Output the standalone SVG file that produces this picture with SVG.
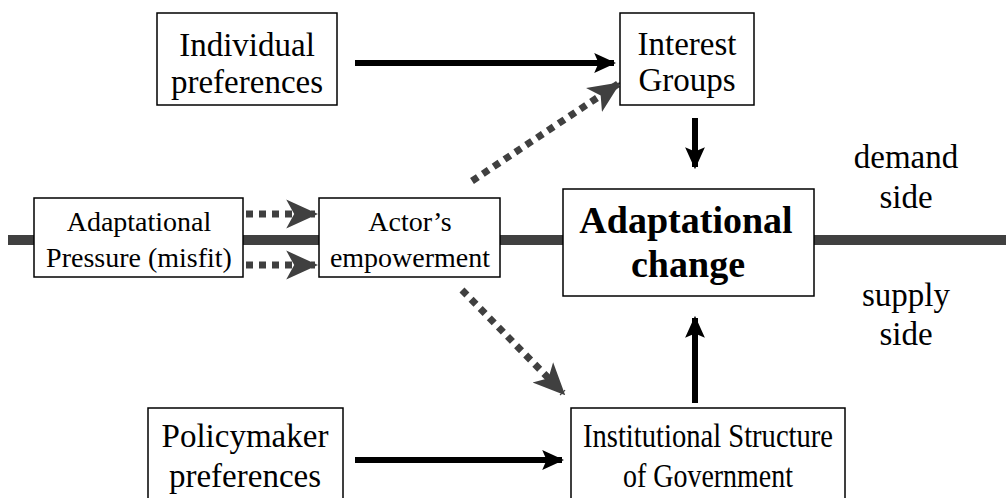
<svg xmlns="http://www.w3.org/2000/svg" width="1006" height="498" viewBox="0 0 1006 498">
<style>
.box{fill:#fff;stroke:#000;stroke-width:1.5}
.t{font-family:"Liberation Serif","Times New Roman",serif;font-size:33px;fill:#000;text-anchor:middle}
.s{font-size:28px}
.b{font-size:38px;font-weight:bold}
.solid{stroke:#000;stroke-width:6;fill:none}
.dot{stroke:#404040;stroke-width:7;stroke-dasharray:7 6;fill:none}
</style>
<defs>
<marker id="ah" viewBox="0 0 20 20" refX="18" refY="10" markerWidth="22" markerHeight="22" markerUnits="userSpaceOnUse" orient="auto">
<path d="M0,1 L20,10 L0,19 L4,10 z" fill="#000"/>
</marker>
<marker id="ag" viewBox="0 0 20 20" refX="18" refY="10" markerWidth="32" markerHeight="32" markerUnits="userSpaceOnUse" orient="auto">
<path d="M0,1 L20,10 L0,19 L5,10 z" fill="#404040"/>
</marker>
</defs>
<line x1="8" y1="240" x2="1006" y2="240" stroke="#404040" stroke-width="10"/>
<g id="connectors">
<line class="solid" x1="355" y1="63" x2="614" y2="63" marker-end="url(#ah)"/>
<line class="solid" x1="695" y1="118" x2="695" y2="167" marker-end="url(#ah)"/>
<line class="solid" x1="695" y1="403" x2="695" y2="318" marker-end="url(#ah)"/>
<line class="solid" x1="355" y1="460" x2="562" y2="460" marker-end="url(#ah)"/>
<line class="dot" x1="246" y1="214" x2="315" y2="214" marker-end="url(#ag)"/>
<line class="dot" x1="246" y1="265" x2="315" y2="265" marker-end="url(#ag)"/>
<line class="dot" x1="472" y1="181" x2="618" y2="84" marker-end="url(#ag)"/>
<line class="dot" x1="462" y1="290" x2="563" y2="393" marker-end="url(#ag)"/>
</g>
<g id="individual"><rect class="box" x="157" y="13" width="180" height="92"/><text class="t" x="247" y="56">Individual</text><text class="t" x="247" y="93">preferences</text></g>
<g id="interest"><rect class="box" x="620" y="13" width="134" height="92"/><text class="t" x="687" y="55">Interest</text><text class="t" x="687" y="91">Groups</text></g>
<g id="change"><rect class="box" x="563" y="189" width="251" height="107"/><text class="t b" x="686" y="233">Adaptational</text><text class="t b" x="688" y="277">change</text></g>
<g id="pressure"><rect class="box" x="34" y="198" width="209" height="79"/><text class="t s" x="139" y="231">Adaptational</text><text class="t s" x="139" y="267">Pressure (misfit)</text></g>
<g id="actor"><rect class="box" x="319" y="198" width="181" height="79"/><text class="t s" x="410" y="231">Actor’s</text><text class="t s" x="410" y="267">empowerment</text></g>
<g id="policymaker"><rect class="box" x="148" y="408" width="195" height="95"/><text class="t" x="245" y="447">Policymaker</text><text class="t" x="245" y="487">preferences</text></g>
<g id="institutional"><rect class="box" x="571" y="408" width="274" height="95"/><text class="t" x="708" y="447" textLength="250" lengthAdjust="spacingAndGlyphs">Institutional Structure</text><text class="t" x="708" y="487" textLength="170" lengthAdjust="spacingAndGlyphs">of Government</text></g>
<g id="demand"><text class="t" x="906" y="168">demand</text><text class="t" x="906" y="208">side</text></g>
<g id="supply"><text class="t" x="906" y="306">supply</text><text class="t" x="906" y="345">side</text></g>
</svg>
